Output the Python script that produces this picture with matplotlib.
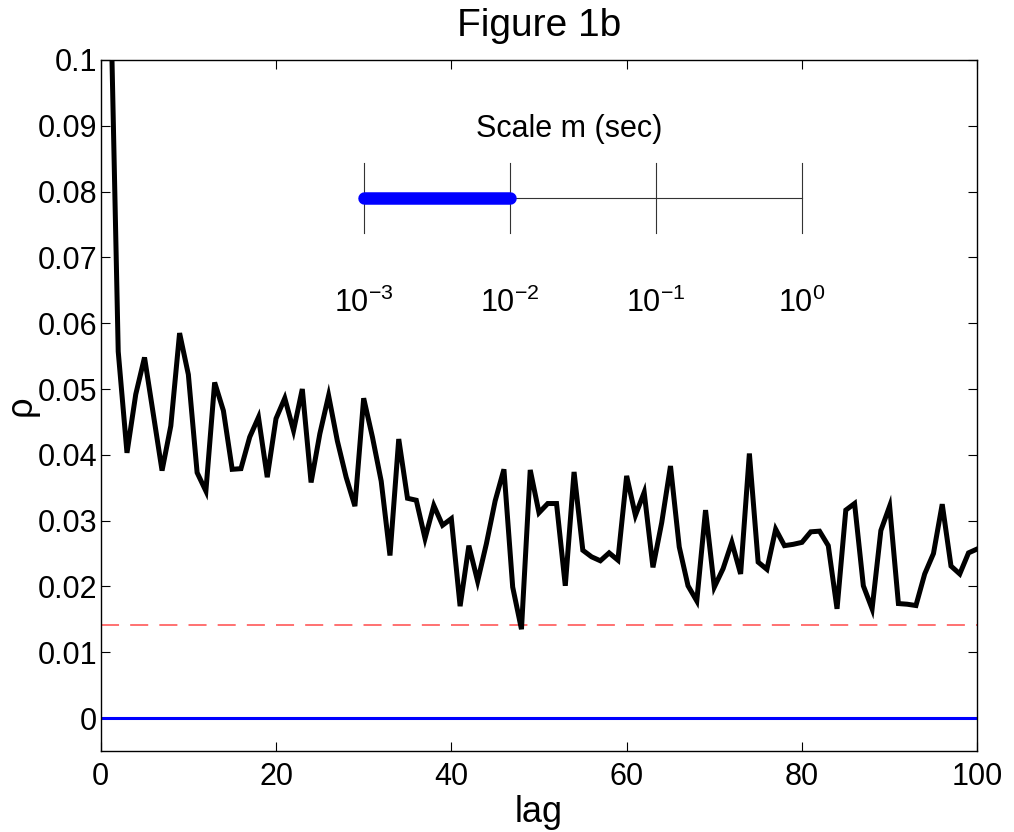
import numpy as np
import matplotlib
matplotlib.use("Agg")
import matplotlib.pyplot as plt

plt.rcParams['font.family'] = ['Liberation Sans', 'DejaVu Sans']
plt.rcParams['mathtext.fontset'] = 'custom'
plt.rcParams['mathtext.rm'] = 'Liberation Sans'
plt.rcParams['mathtext.it'] = 'Liberation Sans:italic'
plt.rcParams['lines.scale_dashes'] = False

# ---- data ----
lags = list(range(1, 101))
rho = [0.118, 0.0557, 0.0403, 0.0492, 0.0548, 0.0462, 0.0376, 0.0444, 0.0585, 0.0522,
       0.0373, 0.0345, 0.0510, 0.0467, 0.0378, 0.0379, 0.0427, 0.0457, 0.0366, 0.0455,
       0.0486, 0.0437, 0.0500, 0.0358, 0.0432, 0.0490, 0.0421, 0.0366, 0.0322, 0.0486,
       0.0427, 0.0360, 0.0247, 0.0424, 0.0334, 0.0331, 0.0273, 0.0323, 0.0293, 0.0303,
       0.0170, 0.0262, 0.0208, 0.0265, 0.0330, 0.0378, 0.0199, 0.0135, 0.0377, 0.0312,
       0.0326, 0.0326, 0.0201, 0.0374, 0.0255, 0.0245, 0.0239, 0.0251, 0.0240, 0.0368,
       0.0308, 0.0343, 0.0229, 0.0297, 0.0383, 0.0260, 0.0201, 0.0178, 0.0316, 0.0199,
       0.0227, 0.0267, 0.0219, 0.0402, 0.0237, 0.0226, 0.0287, 0.0262, 0.0264, 0.0267,
       0.0283, 0.0284, 0.0262, 0.0166, 0.0316, 0.0326, 0.0201, 0.0166, 0.0285, 0.0322,
       0.0174, 0.0173, 0.0171, 0.0219, 0.0250, 0.0325, 0.0231, 0.0219, 0.0251, 0.0257]
significance = 0.0141
zero_level = 0.0

# scale inset (drawn in data coordinates)
scale_positions = [30, 46.67, 63.33, 80]
scale_labels = [r'$\mathregular{10^{-3}}$', r'$\mathregular{10^{-2}}$',
                r'$\mathregular{10^{-1}}$', r'$\mathregular{10^{0}}$']
scale_y = 0.079
scale_tick_half = 0.0053
scale_label_y = 0.0630
scale_title_y = 0.0895
highlight_range = [30, 46.67]

xticks = [0, 20, 40, 60, 80, 100]
yticks = [0, 0.01, 0.02, 0.03, 0.04, 0.05, 0.06, 0.07, 0.08, 0.09, 0.1]
ytick_labels = ['0', '0.01', '0.02', '0.03', '0.04', '0.05', '0.06', '0.07', '0.08', '0.09', '0.1']

fig = plt.figure(figsize=(10.14, 8.32), dpi=100)
ax = fig.add_axes([0.0993, 0.0974, 0.8645, 0.8305])

ax.plot(lags, rho, color='black', lw=3.6, solid_joinstyle='miter', zorder=3)
ax.axhline(zero_level, color='#0000ff', lw=2.2, zorder=2)
ax.axhline(significance, color='#ff6666', lw=1.3, linestyle=(0, (13, 8)), zorder=2)

# scale bar
ax.plot([scale_positions[0], scale_positions[-1]], [scale_y, scale_y], color='#333333', lw=0.8, zorder=2)
for xp in scale_positions:
    ax.plot([xp, xp], [scale_y - scale_tick_half, scale_y + scale_tick_half], color='#333333', lw=0.8, zorder=2)
ax.plot(highlight_range, [scale_y, scale_y], color='#0000ff', lw=9, solid_capstyle='round', zorder=3)
for xp, lab in zip(scale_positions, scale_labels):
    ax.text(xp, scale_label_y, lab, ha='center', va='center', fontsize=22)
ax.text(np.mean([scale_positions[0], scale_positions[-1]]) - 1.5, scale_title_y, 'Scale m (sec)',
        ha='center', va='center', fontsize=22)

ax.set_xlim(0, 100)
ax.set_ylim(-0.005, 0.1)
ax.set_xticks(xticks)
ax.set_yticks(yticks)
ax.set_yticklabels(ytick_labels)
ax.tick_params(direction='in', length=6.5, width=0.8, top=True, right=True,
               labelsize=22, pad=2.5)
ax.tick_params(axis='x', pad=8)
for s in ax.spines.values():
    s.set_linewidth(1.0)

ax.set_xlabel('lag', fontsize=26, labelpad=2)
ax.set_ylabel('ρ', fontsize=26)
ax.yaxis.set_label_coords(-0.071, 0.5)
ax.set_title('Figure 1b', fontsize=28, pad=17)

fig.savefig('out.png', dpi=100)
